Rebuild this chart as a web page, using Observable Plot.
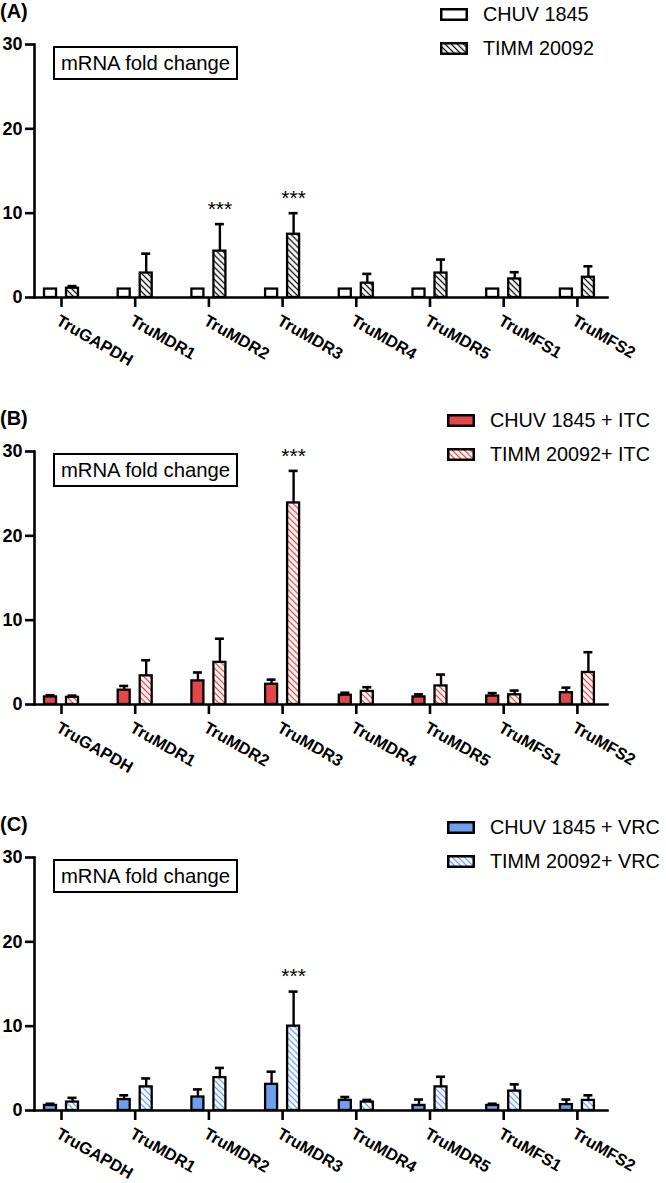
<!DOCTYPE html>
<html>
<head>
<meta charset="utf-8">
<script src="https://cdn.jsdelivr.net/npm/d3@7"></script>
<script src="https://cdn.jsdelivr.net/npm/@observablehq/plot@0.6"></script>
<style>
  body { margin: 0; background: white; }
  #root { position: relative; width: 666px; height: 1183px; overflow: hidden; background: white;
          font-family: "Liberation Sans", Arial, Helvetica, sans-serif; color: black; }
  .panel { position: absolute; left: 0; width: 666px; height: 400px; }
  .panel svg.chart { position: absolute; left: 0; top: 0; overflow: visible; }
  .plabel { position: absolute; left: 0; top: 1px; font-weight: bold; font-size: 20px; line-height: 20px; }
  .mbox { position: absolute; left: 53px; top: 46px; width: 181px; height: 30px; border: 2.5px solid black;
          font-size: 20.3px; line-height: 30px; text-align: center; background: white; }
  .legrow { position: absolute; height: 24px; display: flex; align-items: center; font-size: 19.8px; white-space: nowrap; }
  .legrow svg { margin-right: 15px; }
</style>
</head>
<body>
<div id="root"></div>
<script>
// ---------------- data ----------------
const genes = ["TruGAPDH", "TruMDR1", "TruMDR2", "TruMDR3", "TruMDR4", "TruMDR5", "TruMFS1", "TruMFS2"];

// Panel A
const aLabels = ["CHUV 1845", "TIMM 20092"];
const aChuv   = [1, 1, 1, 1, 1, 1, 1, 1];
const aChuvSd = [0, 0, 0, 0, 0, 0, 0, 0];
const aTimm   = [1.1, 2.9, 5.5, 7.5, 1.7, 2.9, 2.2, 2.4];
const aTimmSd = [0.25, 2.3, 3.2, 2.5, 1.1, 1.6, 0.8, 1.3];
const aStars  = ["TruMDR2", "TruMDR3"];

// Panel B
const bLabels = ["CHUV 1845 + ITC", "TIMM 20092+ ITC"];
const bChuv   = [0.9, 1.7, 2.8, 2.4, 1.1, 0.9, 1.0, 1.4];
const bChuvSd = [0.2, 0.5, 1.0, 0.55, 0.3, 0.3, 0.35, 0.6];
const bTimm   = [0.85, 3.4, 5.0, 23.9, 1.55, 2.2, 1.15, 3.8];
const bTimmSd = [0.2, 1.85, 2.8, 3.8, 0.5, 1.35, 0.5, 2.4];
const bStars  = ["TruMDR3"];

// Panel C
const cLabels = ["CHUV 1845 + VRC", "TIMM 20092+ VRC"];
const cChuv   = [0.6, 1.3, 1.6, 3.1, 1.2, 0.6, 0.6, 0.7];
const cChuvSd = [0.2, 0.5, 0.9, 1.5, 0.4, 0.7, 0.2, 0.6];
const cTimm   = [1.0, 2.8, 3.9, 10.0, 1.0, 2.8, 2.3, 1.2];
const cTimmSd = [0.5, 1.0, 1.15, 4.1, 0.25, 1.2, 0.8, 0.6];
const cStars  = ["TruMDR3"];

const yTicks = [0, 10, 20, 30];
const panelTitles = ["(A)", "(B)", "(C)"];
const boxText = "mRNA fold change";

// ---------------- drawing ----------------
const FONT = '"Liberation Sans", Arial, Helvetica, sans-serif';
const SVGNS = "http://www.w3.org/2000/svg";

function patternMarkup(id, color) {
  return `<pattern id="${id}" patternUnits="userSpaceOnUse" width="4.3" height="4.3" patternTransform="rotate(-45)">
      <rect width="4.3" height="4.3" fill="white"></rect>
      <line x1="2.15" y1="-1" x2="2.15" y2="5.3" stroke="${color}" stroke-width="1.35"></line>
    </pattern>`;
}

function swatch(fill, hatchColor, id) {
  const s = document.createElementNS(SVGNS, "svg");
  s.setAttribute("width", 28); s.setAttribute("height", 13);
  let defs = "";
  let f = fill;
  if (hatchColor) { defs = `<defs>${patternMarkup(id, hatchColor)}</defs>`; f = `url(#${id})`; }
  s.innerHTML = `${defs}<rect x="1.25" y="1.25" width="25.5" height="10.5" fill="${f}" stroke="black" stroke-width="2.5"></rect>`;
  return s;
}

function makePanel(cfg) {
  const chuvRows = genes.map((g, i) => ({gene: g, value: cfg.chuv[i], sd: cfg.chuvSd[i]}));
  const timmRows = genes.map((g, i) => ({gene: g, value: cfg.timm[i], sd: cfg.timmSd[i]}));
  const starRows = timmRows.filter(d => cfg.stars.includes(d.gene));

  const step = 73.7, first = 61;
  const bw = step;
  const barW = 12, capW = 9, off = 11;
  const barInset = (bw - barW) / 2, capInset = (bw - capW) / 2;
  const hatchId = "hatch" + cfg.key;

  const errMarks = (rows, dx) => {
    const r = rows.filter(d => d.sd > 0);
    return [
      Plot.ruleX(r, {x: "gene", y1: "value", y2: d => d.value + d.sd, dx, stroke: "black", strokeWidth: 2.4}),
      Plot.tickY(r, {x: "gene", y: d => d.value + d.sd, dx, insetLeft: capInset, insetRight: capInset, stroke: "black", strokeWidth: 2.6})
    ];
  };

  const chart = Plot.plot({
    width: 666, height: 370,
    marginTop: 44, marginBottom: 73, marginLeft: 34, marginRight: 59,
    style: {fontFamily: FONT, background: "transparent", color: "black", overflow: "visible"},
    x: {domain: genes, range: [first - step / 2, first + step * 7.5], paddingInner: 0, paddingOuter: 0, round: false, label: null},
    y: {domain: [0, 30], label: null},
    marks: [
      Plot.barY(chuvRows, {x: "gene", y: "value", dx: -off, insetLeft: barInset, insetRight: barInset,
        fill: cfg.fill, stroke: "black", strokeWidth: 2.3}),
      Plot.barY(timmRows, {x: "gene", y: "value", dx: off, insetLeft: barInset, insetRight: barInset,
        fill: `url(#${hatchId})`, stroke: "black", strokeWidth: 2.3}),
      ...errMarks(chuvRows, -off),
      ...errMarks(timmRows, off),
      Plot.text(starRows, {x: "gene", y: d => d.value + d.sd, dx: off, dy: -15, text: () => "***",
        fontSize: 21, fill: "black"}),
      Plot.frame({anchor: "left", stroke: "black", strokeWidth: 2.6}),
      Plot.frame({anchor: "bottom", stroke: "black", strokeWidth: 2.6}),
      Plot.axisY({ticks: yTicks, tickSize: 9, tickPadding: 3, stroke: "black", strokeWidth: 2.6,
        fontSize: 18, fontWeight: "bold", fill: "black"}),
      Plot.axisX({tickSize: 10, stroke: "black", strokeWidth: 2.6, tickFormat: () => ""}),
      Plot.axisX({tickSize: 0, tickPadding: 0, tickRotate: 30, textAnchor: "start", lineAnchor: "bottom",
        dx: -6.5, dy: 26.4, fontSize: 16.5, fontWeight: "bold", fill: "black"})
    ]
  });
  chart.classList.add("chart");
  const defs = document.createElementNS(SVGNS, "defs");
  defs.innerHTML = patternMarkup(hatchId, cfg.hatch);
  chart.insertBefore(defs, chart.firstChild);
  // make the y tick labels bold and large, as in the reference
  chart.querySelectorAll('g[aria-label="y-axis tick label"]').forEach(g => {
    g.setAttribute("font-weight", "bold");
    g.setAttribute("font-size", "18");
    g.querySelectorAll("text").forEach(t => { t.style.fontWeight = "bold"; t.style.fontSize = "18px"; });
  });

  const div = document.createElement("div");
  div.className = "panel";
  div.style.top = cfg.top + "px";
  div.appendChild(chart);

  const lab = document.createElement("div");
  lab.className = "plabel"; lab.textContent = cfg.title;
  div.appendChild(lab);

  const box = document.createElement("div");
  box.className = "mbox"; box.textContent = boxText;
  div.appendChild(box);

  cfg.labels.forEach((t, i) => {
    const row = document.createElement("div");
    row.className = "legrow";
    row.style.left = cfg.legX + "px";
    row.style.top = (i === 0 ? 2 : 36) + "px";
    row.appendChild(i === 0 ? swatch(cfg.fill, null, null) : swatch(null, cfg.hatch, "leg" + cfg.key));
    const span = document.createElement("span");
    span.textContent = t;
    row.appendChild(span);
    div.appendChild(row);
  });
  return div;
}

const root = document.getElementById("root");
root.appendChild(makePanel({key: "A", top: 0, title: panelTitles[0], labels: aLabels, legX: 440,
  chuv: aChuv, chuvSd: aChuvSd, timm: aTimm, timmSd: aTimmSd, stars: aStars, fill: "white", hatch: "#111"}));
root.appendChild(makePanel({key: "B", top: 406.7, title: panelTitles[1], labels: bLabels, legX: 447,
  chuv: bChuv, chuvSd: bChuvSd, timm: bTimm, timmSd: bTimmSd, stars: bStars, fill: "#e4474a", hatch: "#e4474a"}));
root.appendChild(makePanel({key: "C", top: 813.3, title: panelTitles[2], labels: cLabels, legX: 447,
  chuv: cChuv, chuvSd: cChuvSd, timm: cTimm, timmSd: cTimmSd, stars: cStars, fill: "#6d9ef0", hatch: "#6d9ef0"}));
</script>
</body>
</html>
